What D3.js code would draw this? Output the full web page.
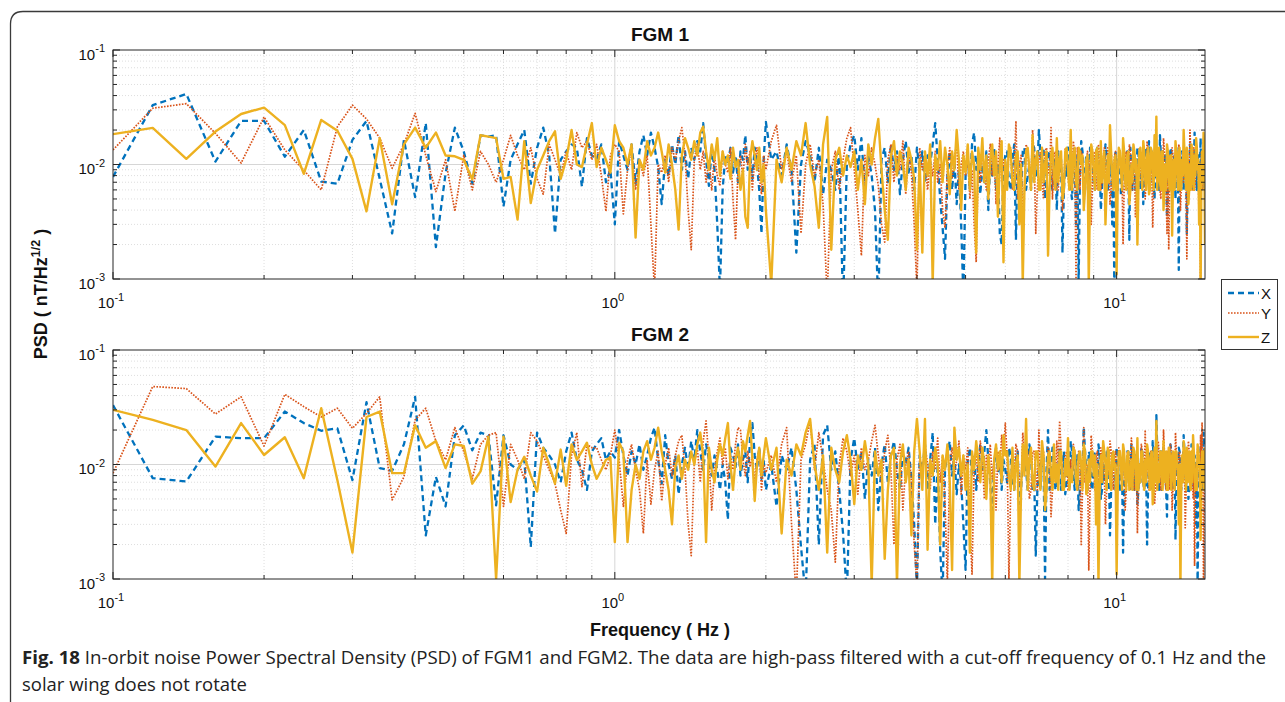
<!DOCTYPE html>
<html><head><meta charset="utf-8">
<script src="https://cdn.jsdelivr.net/npm/d3@7"></script>
<style>body{margin:0;background:#fff}svg{display:block}</style>
</head><body>
<svg id="chart" width="1285" height="702"></svg>
<script>
// Frequency grid (Hz): [start, stop, step] segments
const freqSegments = [[0.10, 2.00, 0.02], [2.05, 15.00, 0.05]];
const freqs = freqSegments.flatMap(([a, b, s]) =>
  d3.range(Math.round((b - a) / s) + 1).map(i => +(a + i * s).toFixed(2)));

// PSD values in units of 1e-4 nT/Hz^1/2, one entry per frequency
const PSD_UNIT = 1e-4;

const fgm1X = [
  78,330,413,106,240,240,117,200,71,68, 164,240,75,25,164,52,230,19,84,210,
  130,68,180,175,180,43,110,150,200,68, 140,210,120,25,110,130,150,140,64,170,
  120,110,150,70,90,30,160,120,90,150, 68,130,180,120,190,140,95,45,110,80,
  150,100,180,90,130,75,140,110,160,130, 230,110,65,140,90,30,8,60,120,100,
  140,85,120,70,130,110,180,90,120,75, 140,100,60,25,110,235,
  110,130,80,150,90,17,100,160,120,70, 140,55,110,90,60,130,6,100,150,180,
  90,170,60,120,80,40,6,110,140,70, 150,90,130,55,110,160,85,120,60,140,
  90,130,70,120,100,150,230,110,50,28, 15,80,130,60,110,45,90,30,7,80,
  120,60,150,190,90,120,55,100,70,130, 40,110,80,140,60,100,25,20,90,120,
  130,70,60,110,150,22,120,90,50,130,140,60,80,100,60,150,140,80,90,200,
  120,90,140,50,70,120,130,70,60,110,100,40,130,90,110,17,60,100,80,140,
  110,60,50,110,140,30,120,9,80,160,130,90,60,120,110,50,140,100,120,70,
  60,130,140,80,110,40,60,110,90,150,120,60,70,100,120,30,90,6,130,90,
  60,120,130,55,60,100,120,70,80,130,110,22,140,90,60,110,120,60,90,140,
  130,80,60,100,120,45,90,120,140,70,90,160,60,90,130,110,80,50,100,130,
  110,75,60,180,120,90,130,60,70,120,110,35,60,100,80,140,130,70,60,110,
  120,50,140,90,70,12,110,80,60,130,120,60,80,100,130,25,60,90,80,150,
  120,70,60,120,90,190,130,80,60,110,120,55,90,170,60,90,100,130,60,100
];
const fgm1Y = [
  134,310,340,187,103,260,134,89,60,214, 330,250,170,93,150,280,120,58,110,39,
  120,60,130,100,70,110,180,120,90,140, 75,55,150,110,80,130,90,190,140,160,
  110,150,80,39,120,150,130,37,90,140, 60,110,80,120,30,8,100,85,120,70,
  140,110,160,210,120,40,18,110,150,90, 130,70,110,60,120,80,65,130,100,85,
  140,50,22,90,120,75,150,100,130,60, 110,140,80,55,120,90,
  160,220,90,130,70,120,25,100,150,80, 110,45,7,90,130,60,110,170,210,90,
  40,16,120,80,140,100,65,30,21,110, 150,70,120,90,160,55,130,85,30,8,
  140,90,120,60,110,80,130,70,100,40, 28,90,140,75,110,160,60,100,130,80,
  120,50,90,30,14,100,70,130,90,60, 110,150,80,120,45,100,170,70,110,90,
  70,130,140,60,90,240,50,100,120,35,60,150,130,80,70,200,110,25,60,110,
  130,70,50,130,140,90,80,210,50,120,130,60,60,100,120,40,60,140,120,80,
  60,110,80,160,120,10,140,90,60,130,120,55,60,100,130,70,110,30,70,120,
  130,80,60,150,120,60,70,110,140,90,60,140,110,45,60,100,80,120,130,70,
  60,130,120,85,90,20,60,110,130,60,70,150,130,90,60,120,110,35,60,100,
  80,140,120,70,60,110,130,50,70,160,130,90,60,120,110,28,60,100,130,80,
  60,130,120,60,50,110,90,170,130,75,60,25,110,18,60,100,80,140,120,60,
  60,120,130,90,60,150,120,40,60,100,130,70,80,130,60,15,90,110,70,200,
  130,80,60,120,140,60,70,150,120,90,80,30,50,7,130,110,60,170,80,130
];
const fgm1Z = [
  184,209,112,194,276,314,221,83,245,197, 112,39,170,45,150,210,140,190,120,118,
  110,74,180,175,170,75,78,33,160,46, 90,120,160,195,75,110,200,100,95,150,
  230,95,140,110,85,220,160,140,100,150, 23,110,90,160,120,140,190,130,85,150,
  100,60,27,120,170,140,110,160,120,190, 214,130,90,150,110,170,80,130,100,120,
  75,140,95,110,60,90,35,28,110,160, 120,90,140,70,100,40,
  9,110,70,140,90,160,120,230,100,65, 28,150,260,18,110,140,80,120,95,130,
  60,110,45,150,100,170,250,90,40,22, 120,160,80,130,100,60,140,110,75,18,
  110,17,130,80,150,9,120,90,160,70, 140,100,55,130,90,200,110,40,120,85,
  150,60,130,100,17,140,90,170,70,120, 50,110,150,80,130,35,100,160,14,110,
  60,150,130,70,60,120,130,30,100,9,60,130,140,90,60,180,70,110,130,60,
  60,140,70,100,130,16,60,120,140,80,60,170,70,110,130,50,60,130,140,90,
  60,200,60,120,140,70,60,140,130,100,120,40,60,110,120,9,60,150,130,90,
  60,130,140,60,60,160,70,100,130,30,60,120,70,220,130,80,60,110,120,11,
  70,140,130,90,60,170,130,70,60,120,130,45,60,100,70,150,130,85,110,20,
  60,130,140,100,60,160,130,75,60,120,140,55,60,140,130,95,60,180,80,262,
  60,110,140,70,60,130,130,40,60,100,60,150,130,80,60,120,120,24,70,110,
  60,160,130,90,60,130,140,60,60,110,80,200,130,85,60,140,120,45,60,100,
  60,150,130,70,60,120,80,170,140,90,110,30,100,8,60,130,70,190,120,20
];
const fgm2X = [
  330,76,71,175,170,170,290,230,197,207, 73,350,93,88,150,390,24,78,43,180,
  220,133,190,180,44,180,100,90,110,19, 190,140,120,100,70,130,190,110,90,60,
  130,150,170,110,130,115,200,120,80,130, 100,150,90,120,170,210,110,68,180,100,
  75,120,55,100,140,90,160,110,200,130, 90,150,110,80,120,90,60,100,70,33,
  140,120,95,150,80,110,130,70,170,230, 120,90,140,75,110,60,
  100,43,120,90,140,60,19,7,110,150, 20,180,220,90,130,60,25,7,110,170,
  90,130,50,110,80,140,40,100,150,70, 120,160,90,60,130,100,140,75,30,8,
  120,90,150,60,110,190,30,100,18,7, 90,130,160,80,120,55,100,70,30,12,
  110,140,80,120,60,100,150,90,130,200, 110,70,40,100,140,85,120,60,110,90,
  70,140,120,70,60,110,130,45,60,120,130,90,60,150,120,60,80,16,60,100,
  60,130,110,10,90,200,60,90,140,120,60,70,90,140,60,100,130,55,70,110,
  60,160,130,80,60,120,120,40,60,100,90,210,130,90,60,130,120,65,60,110,
  130,85,60,150,120,50,60,100,70,130,130,75,90,24,60,120,130,90,60,140,
  120,60,60,110,100,17,60,100,70,130,130,80,60,150,120,90,60,120,110,45,
  60,100,70,140,130,70,60,110,90,20,60,90,130,130,60,160,120,100,80,270,
  130,80,60,120,130,60,70,140,120,100,60,35,110,110,70,150,130,80,60,120,
  100,22,60,100,80,140,130,70,60,110,70,180,130,90,60,130,120,50,60,100,
  70,150,130,80,60,120,110,30,90,8,60,110,70,140,130,70,60,190,120,100
];
const fgm2Y = [
  84,480,460,276,390,145,410,320,260,310, 207,280,390,49,78,245,310,160,110,210,
  130,75,150,180,190,43,150,110,75,190, 160,120,90,68,40,25,120,190,64,150,
  140,140,110,90,120,200,110,43,110,150, 90,60,25,110,45,90,130,48,100,140,
  80,120,160,180,90,30,16,100,140,70, 160,240,110,40,90,130,170,100,140,75,
  120,90,150,210,200,110,80,130,95,120, 70,110,140,60,100,85,
  120,70,150,210,30,7,110,150,240,90, 190,110,60,40,14,100,170,130,80,120,
  55,140,90,110,160,220,120,70,130,180, 90,20,110,150,40,100,130,70,20,9,
  120,80,150,100,60,130,90,170,70,120, 45,9,100,140,80,110,160,55,120,90,
  140,30,11,100,130,70,160,110,50,120, 90,150,75,110,40,130,90,180,120,230,
  120,10,60,110,80,150,130,70,60,190,120,100,130,50,60,130,130,90,60,200,
  70,120,130,60,60,140,120,35,60,100,70,160,100,240,130,90,60,120,130,60,
  60,110,70,150,130,80,60,130,110,20,60,210,70,100,100,12,60,180,130,90,
  60,120,130,60,60,140,130,100,90,30,60,110,80,160,130,80,60,120,130,55,
  60,140,130,90,60,110,120,40,60,130,130,100,60,170,130,70,60,120,100,25,
  60,100,70,150,130,80,60,200,70,110,130,60,60,130,130,90,110,45,60,120,
  70,160,130,80,60,110,70,200,130,70,60,130,130,95,60,150,120,40,60,110,
  70,190,130,90,60,120,130,65,60,100,70,140,110,28,60,110,80,160,130,80,
  60,120,130,50,90,13,60,100,70,140,130,90,60,180,80,230,100,7,60,110
];
const fgm2Z = [
  300,245,200,96,230,121,173,76,310,73, 17,260,290,84,84,220,140,160,93,150,
  145,68,87,175,10,175,47,90,117,80, 58,140,100,68,135,65,150,110,130,155,
  100,75,90,110,115,21,155,130,21,60, 100,75,130,160,110,140,210,130,90,60,
  30,95,120,75,110,90,130,100,150,190, 120,21,140,90,70,110,150,120,170,230,
  100,60,110,140,90,160,130,180,240,110, 48,100,140,80,120,170,
  90,140,25,110,80,150,120,190,250,100, 60,120,17,140,90,70,130,180,110,45,
  120,90,160,100,9,130,80,110,15,60, 120,140,9,100,150,70,110,24,130,250,
  130,60,250,18,110,80,140,100,20,120, 90,150,70,12,210,110,140,80,120,60,
  100,17,130,90,160,110,70,140,100,50, 120,80,9,110,150,90,130,70,180,120,
  130,80,60,140,60,100,120,9,60,150,80,250,60,110,140,70,60,130,130,90,
  60,160,120,40,60,120,130,85,60,150,70,100,60,130,130,60,60,110,80,170,
  60,90,70,140,130,70,60,120,130,100,60,150,130,55,60,110,70,130,130,80,
  120,30,100,9,60,120,70,160,130,100,60,140,130,75,60,120,130,90,100,11,
  60,130,130,100,60,150,130,80,60,120,130,60,70,110,60,140,130,90,60,170,
  60,100,70,130,130,70,60,110,70,150,130,90,60,120,130,45,60,140,70,240,
  60,100,70,130,130,80,60,160,70,110,130,60,60,140,130,95,60,120,130,75,
  60,130,130,100,90,30,100,8,60,120,70,160,130,90,60,140,70,110,130,70,
  60,130,70,180,130,100,60,60,60,150,130,110,90,22,60,130,130,90,60,140
];

const seriesNames = ["X", "Y", "Z"];
const panelTitles = ["FGM 1", "FGM 2"];
const panelSeries = [[fgm1X, fgm1Y, fgm1Z], [fgm2X, fgm2Y, fgm2Z]];
const xTicks = [0.1, 1, 10];
const xTickExp = ["-1", "0", "1"];
const yTicks = [1e-3, 1e-2, 1e-1];
const yTickExp = ["-3", "-2", "-1"];

panelSeries.flat().forEach((s, i) => {
  if (s.length !== freqs.length) throw new Error(`series ${i}: ${s.length} values for ${freqs.length} frequencies`);
});

const styles = {
  X: { color: "#0072BD", width: 2.3, dash: "6,4" },
  Y: { color: "#D95319", width: 1.7, dash: "1.6,1.4" },
  Z: { color: "#EDB120", width: 2.4, dash: null }
};

const FONT = "'Liberation Sans', Arial, Helvetica, sans-serif";
const svg = d3.select("#chart").style("font-family", FONT);

// outer figure frame
svg.append("path")
  .attr("d", "M10.5,702 L10.5,24 Q10.5,11.5 23,11.5 L1285,11.5")
  .attr("fill", "none").attr("stroke", "#3a3a3a").attr("stroke-width", 1.3);

const left = 113, right = 1205, plotH = 229;
const panelTops = [50, 350];

const x = d3.scaleLog().domain([0.1, 15]).range([left, right]);
const xMinor = [0.2,0.3,0.4,0.5,0.6,0.7,0.8,0.9,2,3,4,5,6,7,8,9];
const yMinor = [2,3,4,5,6,7,8,9].flatMap(m => [m * 1e-3, m * 1e-2]);

panelSeries.forEach((series, p) => {
  const top = panelTops[p];
  const y = d3.scaleLog().domain([1e-3, 1e-1]).range([top + plotH, top]);
  const g = svg.append("g");

  g.append("rect").attr("x", left).attr("y", top).attr("width", right - left).attr("height", plotH)
    .attr("fill", "#fff");

  // minor grid
  g.selectAll(".gxm").data(xMinor).join("line")
    .attr("x1", d => x(d)).attr("x2", d => x(d)).attr("y1", top).attr("y2", top + plotH)
    .attr("stroke", "#dedede").attr("stroke-width", 1).attr("stroke-dasharray", "1,2");
  g.selectAll(".gym").data(yMinor).join("line")
    .attr("y1", d => y(d)).attr("y2", d => y(d)).attr("x1", left).attr("x2", right)
    .attr("stroke", "#dedede").attr("stroke-width", 1).attr("stroke-dasharray", "1,2");
  // major grid
  g.selectAll(".gx").data([1, 10]).join("line")
    .attr("x1", d => x(d)).attr("x2", d => x(d)).attr("y1", top).attr("y2", top + plotH)
    .attr("stroke", "#d6d6d6").attr("stroke-width", 1);
  g.selectAll(".gy").data([1e-2]).join("line")
    .attr("y1", d => y(d)).attr("y2", d => y(d)).attr("x1", left).attr("x2", right)
    .attr("stroke", "#d6d6d6").attr("stroke-width", 1);

  // data lines
  const clipId = "clip" + p;
  g.append("clipPath").attr("id", clipId).append("rect")
    .attr("x", left).attr("y", top).attr("width", right - left).attr("height", plotH);
  const line = d3.line().x(d => x(d[0])).y(d => y(d[1]));
  series.forEach((vals, k) => {
    const st = styles[seriesNames[k]];
    const pts = freqs.map((f, i) => [f, vals[i] * PSD_UNIT]);
    g.append("path").attr("clip-path", `url(#${clipId})`)
      .attr("d", line(pts)).attr("fill", "none")
      .attr("stroke", st.color).attr("stroke-width", st.width)
      .attr("stroke-dasharray", st.dash).attr("stroke-linejoin", "round");
  });

  // axes box and inward ticks
  const axisColor = "#262626";
  g.append("rect").attr("x", left).attr("y", top).attr("width", right - left).attr("height", plotH)
    .attr("fill", "none").attr("stroke", axisColor).attr("stroke-width", 1);
  const tickSet = [...xTicks.map(v => [v, 7]), ...xMinor.map(v => [v, 4])];
  tickSet.forEach(([v, len]) => {
    g.append("line").attr("x1", x(v)).attr("x2", x(v)).attr("y1", top + plotH).attr("y2", top + plotH - len)
      .attr("stroke", axisColor);
    g.append("line").attr("x1", x(v)).attr("x2", x(v)).attr("y1", top).attr("y2", top + len)
      .attr("stroke", axisColor);
  });
  const yTickSet = [...yTicks.map(v => [v, 7]), ...yMinor.map(v => [v, 4])];
  yTickSet.forEach(([v, len]) => {
    g.append("line").attr("y1", y(v)).attr("y2", y(v)).attr("x1", left).attr("x2", left + len)
      .attr("stroke", axisColor);
    g.append("line").attr("y1", y(v)).attr("y2", y(v)).attr("x1", right).attr("x2", right - len)
      .attr("stroke", axisColor);
  });

  // tick labels (powers of ten)
  yTicks.forEach((v, i) => {
    const t = g.append("text").attr("x", left - 8).attr("y", y(v) + 9.5)
      .attr("text-anchor", "end").attr("fill", "#111").attr("font-size", 15);
    t.append("tspan").text("10");
    t.append("tspan").attr("dy", -7.5).attr("font-size", 11).text(yTickExp[i]);
  });
  xTicks.forEach((v, i) => {
    const t = g.append("text").attr("x", x(v) - 2).attr("y", top + plotH + 29)
      .attr("text-anchor", "middle").attr("fill", "#111").attr("font-size", 15);
    t.append("tspan").text("10");
    t.append("tspan").attr("dy", -7.5).attr("font-size", 11).text(xTickExp[i]);
  });

  // panel title
  g.append("text").attr("x", (left + right) / 2 + 1).attr("y", top - 9)
    .attr("text-anchor", "middle").attr("font-weight", "bold").attr("font-size", 19)
    .attr("fill", "#111").text(panelTitles[p]);
});

// axis labels
svg.append("text").attr("x", 660).attr("y", 636).attr("text-anchor", "middle")
  .attr("font-weight", "bold").attr("font-size", 18).attr("fill", "#111").text("Frequency ( Hz )");
const yl = svg.append("text").attr("transform", "translate(47,294) rotate(-90)")
  .attr("text-anchor", "middle").attr("font-weight", "bold").attr("font-size", 18).attr("fill", "#111");
yl.append("tspan").text("PSD ( nT/Hz");
yl.append("tspan").attr("dy", -7).attr("font-size", 12.5).text("1/2");
yl.append("tspan").attr("dy", 7).text(" )");

// legend
const lg = svg.append("g");
lg.append("rect").attr("x", 1221.5).attr("y", 279.5).attr("width", 56).attr("height", 70)
  .attr("fill", "#fff").attr("stroke", "#333").attr("stroke-width", 1);
const legendY = [293, 313, 337];
seriesNames.forEach((n, i) => {
  const st = styles[n];
  lg.append("line").attr("x1", 1228).attr("x2", 1259).attr("y1", legendY[i]).attr("y2", legendY[i])
    .attr("stroke", st.color).attr("stroke-width", st.width).attr("stroke-dasharray", st.dash);
  lg.append("text").attr("x", 1261).attr("y", legendY[i] + 5.5).attr("font-size", 15)
    .attr("fill", "#111").text(n);
});

// caption
const CAP = "'Liberation Sans Narrow', 'Open Sans', 'Liberation Sans', sans-serif";
const c1 = svg.append("text").attr("x", 22).attr("y", 664).attr("font-size", 17.5)
  .attr("font-family", CAP).attr("fill", "#222")
  .attr("textLength", 1244).attr("lengthAdjust", "spacingAndGlyphs");
c1.append("tspan").attr("font-weight", "bold").text("Fig. 18");
c1.append("tspan").text("  In-orbit noise Power Spectral Density (PSD) of FGM1 and FGM2. The data are high-pass filtered with a cut-off frequency of 0.1 Hz and the");
svg.append("text").attr("x", 22).attr("y", 691).attr("font-size", 17.5)
  .attr("font-family", CAP).attr("fill", "#222")
  .attr("textLength", 225).attr("lengthAdjust", "spacingAndGlyphs")
  .text("solar wing does not rotate");
</script>
</body></html>
